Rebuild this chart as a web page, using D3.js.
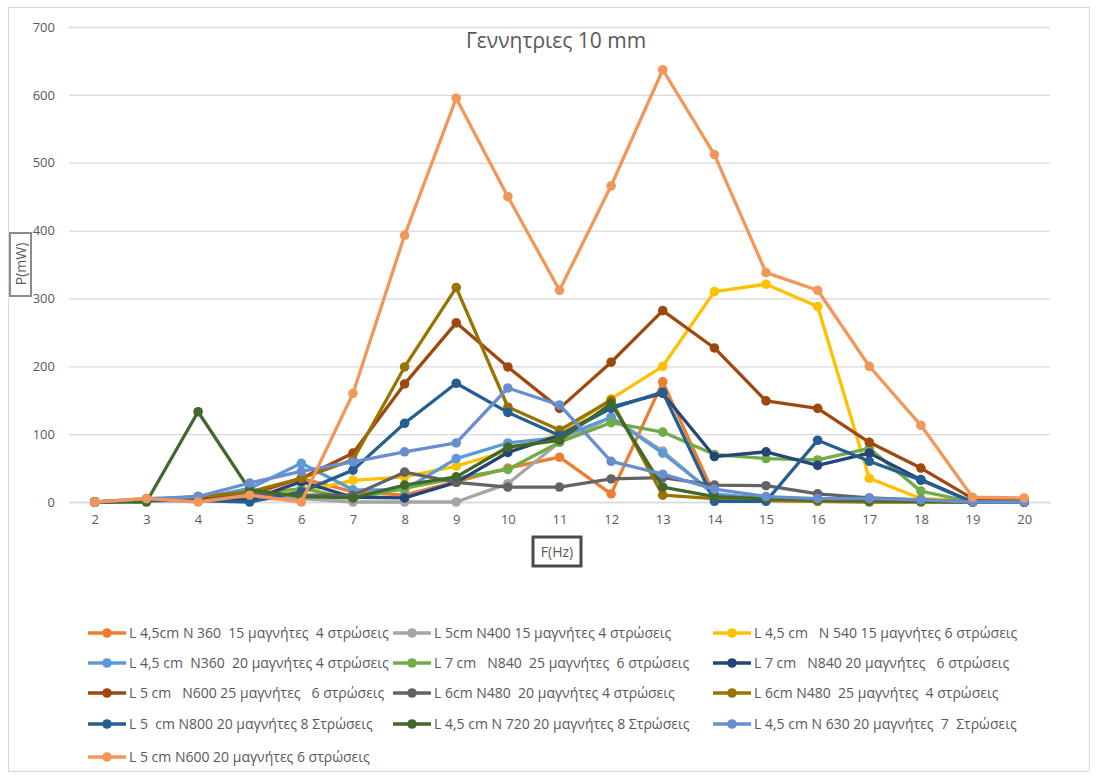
<!DOCTYPE html>
<html>
<head>
<meta charset="utf-8">
<script src="https://cdn.jsdelivr.net/npm/d3@7"></script>
<style>
  html, body { margin: 0; padding: 0; background: #ffffff; }
  svg text { font-family: "Open Sans", "Noto Sans", sans-serif; fill: #595959; }
  .legend text { white-space: pre; }
</style>
</head>
<body>
<svg id="chart" width="1097" height="776"></svg>
<script>
// Frequencies (Hz) on the category axis
const freqs = [2, 3, 4, 5, 6, 7, 8, 9, 10, 11, 12, 13, 14, 15, 16, 17, 18, 19, 20];
const yTicks = [0, 100, 200, 300, 400, 500, 600, 700];

// Generator configurations (legend labels)
const names = [
  "L 4,5cm N 360  15 μαγνήτες  4 στρώσεις",
  "L 5cm N400 15 μαγνήτες 4 στρώσεις",
  "L 4,5 cm   N 540 15 μαγνήτες 6 στρώσεις",
  "L 4,5 cm  N360  20 μαγνήτες 4 στρώσεις",
  "L 7 cm   N840  25 μαγνήτες  6 στρώσεις",
  "L 7 cm   N840 20 μαγνήτες   6 στρώσεις",
  "L 5 cm   N600 25 μαγνήτες   6 στρώσεις",
  "L 6cm N480  20 μαγνήτες 4 στρώσεις",
  "L 6cm N480  25 μαγνήτες  4 στρώσεις",
  "L 5  cm N800 20 μαγνήτες 8 Στρώσεις",
  "L 4,5 cm N 720 20 μαγνήτες 8 Στρώσεις",
  "L 4,5 cm N 630 20 μαγνήτες  7  Στρώσεις",
  "L 5 cm N600 20 μαγνήτες 6 στρώσεις"
];

const colors = [
  "#ED7D31", "#A5A5A5", "#FFC000", "#5B9BD5", "#70AD47", "#264478",
  "#9E480E", "#636363", "#997300", "#255E91", "#43682B", "#698ED0", "#F1975A"
];

// Power P (mW) per frequency, one array per configuration
const s1  = [0, 3, 2, 10, 35, 15, 10, 30, 50, 66, 12, 177, 10, 5, 3, 2, 1, 0, 0];
const s2  = [0, 3, 3, 5, 5, 0, 0, 0, 27, 88, 125, 75, 10, 5, 3, 2, 1, 0, 0];
const s3  = [0, 2, 3, 8, 15, 32, 37, 53, 75, 100, 152, 200, 310, 321, 288, 35, 5, 2, 2];
const s4  = [0, 3, 5, 20, 57, 18, 18, 64, 87, 95, 125, 72, 12, 5, 3, 3, 2, 0, 0];
const s5  = [0, 2, 3, 10, 20, 5, 20, 35, 48, 88, 117, 103, 70, 64, 62, 79, 16, 0, 0];
const s6  = [0, 2, 3, 3, 30, 7, 6, 29, 73, 98, 140, 160, 67, 74, 54, 72, 33, 0, 0];
const s7  = [0, 3, 5, 12, 35, 72, 174, 264, 199, 138, 206, 282, 227, 149, 138, 88, 50, 5, 2];
const s8  = [0, 3, 8, 12, 10, 10, 44, 29, 22, 22, 34, 36, 25, 24, 12, 6, 3, 0, 0];
const s9  = [0, 3, 8, 15, 35, 62, 199, 316, 140, 106, 150, 10, 5, 2, 1, 0, 0, 0, 0];
const s10 = [0, 2, 2, 0, 15, 47, 116, 175, 132, 98, 138, 162, 1, 1, 91, 60, 32, 0, 0];
const s11 = [0, 0, 133, 18, 8, 6, 25, 37, 81, 91, 145, 22, 8, 5, 3, 2, 1, 0, 0];
const s12 = [0, 5, 8, 28, 45, 59, 74, 87, 168, 143, 60, 41, 19, 8, 5, 5, 3, 0, 0];
const s13 = [0, 5, 0, 10, 0, 160, 393, 595, 450, 312, 466, 637, 512, 338, 312, 200, 113, 7, 6];

const seriesValues = [s1, s2, s3, s4, s5, s6, s7, s8, s9, s10, s11, s12, s13];

const svg = d3.select("#chart");

// Outer chart frame
svg.append("rect")
  .attr("x", 8.5).attr("y", 7.5)
  .attr("width", 1081).attr("height", 764)
  .attr("fill", "#ffffff")
  .attr("stroke", "#d9d9d9").attr("stroke-width", 1);

const plotLeft = 69, plotRight = 1050, plotTop = 27, plotBottom = 502;

const x = d3.scalePoint().domain(freqs).range([plotLeft, plotRight]).padding(0.5);
const y = d3.scaleLinear().domain([0, 700]).range([plotBottom, plotTop]);

// Horizontal gridlines + value labels
const yAxis = d3.axisLeft(y).tickValues(yTicks)
  .tickSize(-(plotRight - plotLeft)).tickPadding(14).tickFormat(d3.format("d"));
const gy = svg.append("g").attr("transform", `translate(${plotLeft},0)`).call(yAxis);
gy.select(".domain").remove();
gy.selectAll(".tick line").attr("stroke", "#d9d9d9").attr("stroke-width", 1.3);
gy.selectAll(".tick text").attr("font-size", 13).style("fill", "#595959");

// Category labels
const xAxis = d3.axisBottom(x).tickSize(0).tickPadding(13);
const gx = svg.append("g").attr("transform", `translate(0,${plotBottom})`).call(xAxis);
gx.select(".domain").attr("stroke", "#d9d9d9").attr("stroke-width", 1.3);
gx.selectAll(".tick text").attr("font-size", 13).style("fill", "#595959");

// Series lines and markers
const line = d3.line().x((d, i) => x(freqs[i])).y(d => y(d));
seriesValues.forEach((vals, k) => {
  const g = svg.append("g");
  g.append("path")
    .attr("d", line(vals))
    .attr("fill", "none")
    .attr("stroke", colors[k])
    .attr("stroke-width", 3.3)
    .attr("stroke-linejoin", "round");
  g.selectAll("circle").data(vals).join("circle")
    .attr("cx", (d, i) => x(freqs[i]))
    .attr("cy", d => y(d))
    .attr("r", 4.8)
    .attr("fill", colors[k]);
});

// Title
svg.append("text")
  .attr("x", 556).attr("y", 48)
  .attr("text-anchor", "middle")
  .attr("font-size", 21)
  .text("Γεννητριες 10 mm");

// Y-axis title in a framed box
svg.append("rect")
  .attr("x", 10).attr("y", 233).attr("width", 21).attr("height", 63)
  .attr("fill", "#ffffff").attr("stroke", "#8c8c8c").attr("stroke-width", 2);
svg.append("text")
  .attr("transform", "translate(26,264) rotate(-90)")
  .attr("text-anchor", "middle")
  .attr("font-size", 14)
  .text("P(mW)");

// X-axis title in a framed box
svg.append("rect")
  .attr("x", 533).attr("y", 537).attr("width", 48).attr("height", 29)
  .attr("fill", "#ffffff").attr("stroke", "#4a4a4a").attr("stroke-width", 3);
svg.append("text")
  .attr("x", 557).attr("y", 557)
  .attr("text-anchor", "middle")
  .attr("font-size", 14)
  .text("F(Hz)");

// Legend: three columns, filled row by row
const colX = [88, 393, 713];
const rowY = [633, 663, 693, 724, 757];
const legend = svg.append("g").attr("class", "legend");
names.forEach((name, k) => {
  const cx = colX[k % 3], cy = rowY[Math.floor(k / 3)];
  const item = legend.append("g").attr("transform", `translate(${cx},${cy})`);
  item.append("line")
    .attr("x1", 0).attr("x2", 38).attr("y1", 0).attr("y2", 0)
    .attr("stroke", colors[k]).attr("stroke-width", 3.3);
  item.append("circle").attr("cx", 19).attr("cy", 0).attr("r", 4.8).attr("fill", colors[k]);
  item.append("text")
    .attr("x", 41).attr("y", 0).attr("dy", "0.35em")
    .attr("font-size", 14)
    .text(name);
});
</script>
</body>
</html>
